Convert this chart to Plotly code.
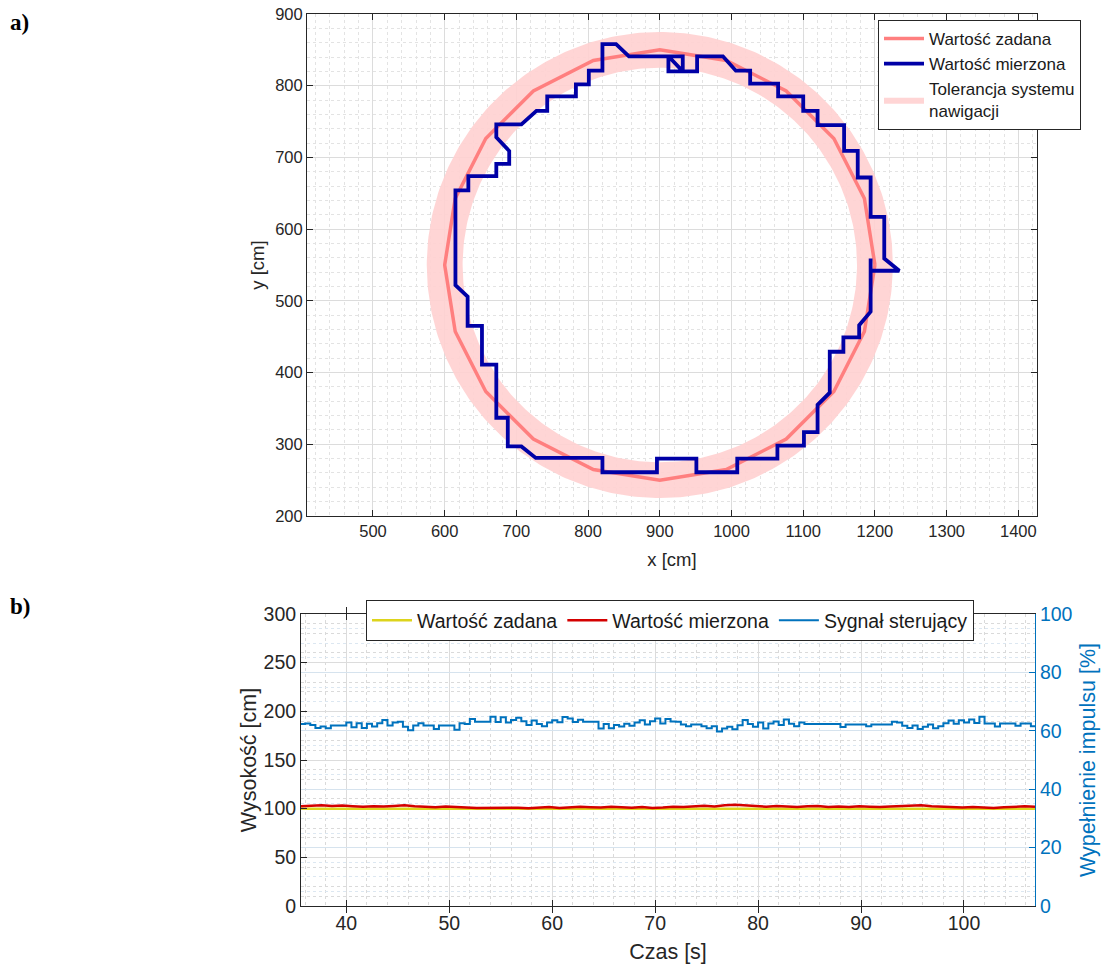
import numpy as np
import plotly.graph_objects as go

# ---------------- Panel a) : trajectory in the XY plane ----------------
set_x = [1200, 1185.3, 1142.7, 1076.3, 992.7, 900, 807.3, 723.7, 657.3, 614.7,
         600, 614.7, 657.3, 723.7, 807.3, 900, 992.7, 1076.3, 1142.7, 1185.3, 1200]
set_y = [550, 642.7, 726.3, 792.7, 835.3, 850, 835.3, 792.7, 726.3, 642.7,
         550, 457.3, 373.7, 307.3, 264.7, 250, 264.7, 307.3, 373.7, 457.3, 550]

meas_x = [1194, 1194, 1178, 1178, 1156, 1156, 1137, 1137, 1120, 1120, 1101, 1101,
          1064, 1064, 1008, 1008, 951, 951, 896, 896, 820, 820, 727, 707, 688, 688,
          672, 672, 652, 652, 632, 632, 615, 615, 633, 633, 672, 672, 690, 690, 672,
          672, 707, 728, 743, 743, 783, 783, 801, 801, 820, 820, 839, 857, 932, 932,
          912, 912, 932, 952, 952, 988, 1006, 1026, 1026, 1065, 1065, 1100, 1100,
          1120, 1120, 1157, 1157, 1176, 1176, 1194, 1194, 1213, 1213, 1234, 1194]
meas_y = [559, 485, 466, 449, 449, 429, 429, 372, 355, 317, 317, 298,
          298, 280, 280, 261, 261, 280, 280, 261, 261, 281, 281, 297, 297, 337,
          337, 411, 411, 465, 465, 506, 522, 654, 654, 674, 674, 691, 691, 709, 728,
          746, 746, 765, 765, 785, 785, 802, 802, 821, 821, 858, 858, 841, 841, 820,
          820, 841, 820, 820, 841, 841, 821, 821, 803, 803, 785, 785, 765,
          765, 745, 745, 709, 709, 672, 672, 617, 617, 559, 542, 542]

circle_center = (900, 550)
circle_radius = 300
nav_tolerance = 25

# ---------------- Panel b) : altitude control ----------------
t_start, t_step = 35.5, 0.5
control_pct = [
    62.3, 62.5, 62.0, 61.0, 61.5, 60.9, 61.8, 61.8, 61.8, 62.8,
    61.2, 62.6, 61.0, 62.4, 61.5, 62.6, 63.7, 61.8, 62.8, 63.1,
    61.4, 60.2, 61.8, 62.6, 61.8, 61.8, 60.6, 61.8, 61.8, 61.8,
    60.4, 62.6, 62.3, 64.0, 63.1, 63.1, 63.1, 64.8, 63.0, 64.6,
    62.8, 63.7, 64.5, 63.3, 62.0, 63.5, 62.3, 61.6, 62.8, 63.6,
    62.9, 64.7, 64.2, 63.0, 63.8, 63.1, 63.1, 63.1, 60.8, 62.3,
    60.9, 62.0, 61.5, 62.4, 61.7, 62.8, 63.6, 62.2, 63.3, 64.2,
    62.5, 64.0, 63.2, 63.1, 62.2, 61.6, 62.2, 62.2, 61.6, 60.9,
    61.6, 59.8, 60.8, 61.4, 60.5, 61.9, 63.7, 62.3, 61.4, 62.8,
    60.8, 62.5, 63.2, 62.0, 63.9, 62.4, 61.6, 62.8, 62.3, 62.3,
    62.3, 62.3, 62.3, 62.3, 62.3, 61.3, 62.2, 62.2, 62.2, 62.2,
    61.6, 62.2, 62.2, 62.2, 62.2, 63.1, 62.8, 61.7, 61.0, 61.8,
    60.6, 61.4, 62.2, 60.9, 61.6, 62.6, 63.5, 62.4, 63.6, 62.8,
    63.9, 62.7, 64.8, 62.5, 62.5, 61.5, 62.5, 62.5, 62.5, 61.7,
    62.5, 62.5, 61.6, 62.3]
t_ctrl = t_start + t_step * np.arange(len(control_pct))

height_meas = [
    102.5, 103.0, 103.5, 102.8, 103.2, 102.5, 102.0, 102.6, 102.2, 102.8,
    103.4, 102.6, 102.0, 101.5, 102.2, 102.0, 101.2, 100.8, 101.0, 100.6,
    101.4, 101.0, 100.5, 101.2, 101.8, 100.6, 101.0, 102.0, 101.5, 101.2,
    102.0, 101.4, 101.0, 101.6, 100.8, 101.2, 102.0, 101.6, 102.4, 103.0,
    102.2, 103.6, 104.0, 103.2, 102.6, 102.0, 102.8, 102.2, 101.6, 102.4,
    102.8, 101.8, 102.2, 101.8, 102.6, 102.0, 101.6, 102.2, 102.6, 103.2,
    103.6, 102.4, 102.0, 101.6, 101.2, 101.8, 101.2, 100.8, 101.4, 101.8,
    102.4, 102.0]
t_meas = np.linspace(35.6, 106.9, len(height_meas))
height_set = [100, 100]
t_set = [35.6, 106.9]

# ---------------- figure ----------------
W, H = 1109, 964
AX = '#262626'
FONT = 'Liberation Sans, Arial, sans-serif'

def fx(px):
    return px / W

def fy(py):
    return 1 - py / H

fig = go.Figure()

# tolerance ring (filled annulus)
th = np.linspace(0, 2 * np.pi, 361)
cx, cy = circle_center
ro, ri = circle_radius + nav_tolerance, circle_radius - nav_tolerance
ring_x = np.concatenate([cx + ro * np.cos(th), cx + ri * np.cos(th[::-1])])
ring_y = np.concatenate([cy + ro * np.sin(th), cy + ri * np.sin(th[::-1])])

fig.add_trace(go.Scatter(x=ring_x, y=ring_y, mode='lines', fill='toself',
                         fillcolor='rgba(255,208,208,0.9)', line=dict(width=0, color='rgba(0,0,0,0)'),
                         name='Tolerancja systemu<br>nawigacji', xaxis='x', yaxis='y',
                         legend='legend', legendrank=3))
fig.add_trace(go.Scatter(x=set_x, y=set_y, mode='lines', name='Wartość zadana',
                         line=dict(color='#FF7F7F', width=3.5), xaxis='x', yaxis='y',
                         legend='legend', legendrank=1))
fig.add_trace(go.Scatter(x=meas_x, y=meas_y, mode='lines', name='Wartość mierzona',
                         line=dict(color='#0000A6', width=3.8), xaxis='x', yaxis='y',
                         legend='legend', legendrank=2))

fig.add_trace(go.Scatter(x=t_set, y=height_set, mode='lines', name='Wartość zadana',
                         line=dict(color='#DDD41C', width=2.5), xaxis='x2', yaxis='y2',
                         legend='legend2', legendrank=1))
fig.add_trace(go.Scatter(x=t_meas, y=height_meas, mode='lines', name='Wartość mierzona',
                         line=dict(color='#D40000', width=2.5), xaxis='x2', yaxis='y2',
                         legend='legend2', legendrank=2))
fig.add_trace(go.Scatter(x=t_ctrl, y=control_pct, mode='lines', name='Sygnał sterujący',
                         line=dict(color='#0072BD', width=2, shape='hv'), xaxis='x2', yaxis='y3',
                         legend='legend2', legendrank=3))

common = dict(showline=True, linecolor=AX, linewidth=1, ticks='inside', ticklen=6,
              tickcolor=AX, showgrid=True, gridcolor='#DCDCDC', gridwidth=1, zeroline=False,
              automargin=False)

fig.update_layout(
    template='plotly_white',
    width=W, height=H, margin=dict(l=0, r=0, t=0, b=0, autoexpand=False),
    paper_bgcolor='white', plot_bgcolor='white',
    font=dict(family=FONT, color=AX),
    xaxis=dict(domain=[fx(307), fx(1037)], range=[408, 1426], anchor='y',
               tickvals=list(range(500, 1401, 100)), mirror='allticks',
               minor=dict(dtick=20, tick0=0, showgrid=True, gridcolor='#E3E3E3', griddash='dot', ticks=''),
               title=dict(text='x [cm]', font=dict(size=18.5), standoff=14),
               tickfont=dict(family=FONT, color=AX, size=16.5), **common),
    yaxis=dict(domain=[fy(516), fy(14)], range=[200, 900], anchor='x',
               tickvals=list(range(200, 901, 100)), mirror='allticks',
               minor=dict(dtick=20, tick0=0, showgrid=True, gridcolor='#E3E3E3', griddash='dot', ticks=''),
               title=dict(text='y [cm]', font=dict(size=18.5), standoff=5),
               tickfont=dict(family=FONT, color=AX, size=16.5), **common),
    xaxis2=dict(domain=[fx(301), fx(1035)], range=[35.6, 106.9], anchor='y2',
                tickvals=list(range(40, 101, 10)), mirror='allticks',
                minor=dict(dtick=2, tick0=0, showgrid=True, gridcolor='#DADADA', griddash='dot', ticks=''),
                title=dict(text='Czas [s]', font=dict(size=21.5), standoff=11),
                tickfont=dict(family=FONT, color=AX, size=19.5), **common),
    yaxis2=dict(domain=[fy(906), fy(614)], range=[0, 300], anchor='x2',
                tickvals=list(range(0, 301, 50)),
                minor=dict(dtick=10, tick0=0, showgrid=True, gridcolor='#DADADA', griddash='dot', ticks=''),
                title=dict(text='Wysokość [cm]', font=dict(size=21.5), standoff=1),
                tickfont=dict(family=FONT, color=AX, size=19.5), **common),
    yaxis3=dict(range=[0, 100], overlaying='y2', side='right', anchor='x2',
                tickvals=list(range(0, 101, 20)), showline=True, linecolor='#0072BD', linewidth=1,
                ticks='inside', ticklen=6, tickcolor='#0072BD', showgrid=True,
                gridcolor='#D6E3EE', zeroline=False, automargin=False,
                minor=dict(dtick=5, tick0=0, showgrid=True, gridcolor='#DCE7F1', griddash='dot', ticks=''),
                tickfont=dict(family=FONT, color='#0072BD', size=19.5),
                title=dict(text='Wypełnienie impulsu [%]', font=dict(size=21.5, color='#0072BD'), standoff=8)),
    legend=dict(x=fx(878), y=fy(20), xanchor='left', yanchor='top', bgcolor='white',
                bordercolor=AX, borderwidth=1, font=dict(family=FONT, size=17, color='#1a1a1a'),
                tracegroupgap=0, itemwidth=40),
    legend2=dict(x=fx(670), y=fy(600), xanchor='center', yanchor='top', orientation='h',
                 bgcolor='white', bordercolor=AX, borderwidth=1,
                 font=dict(family=FONT, size=19.5, color='#1a1a1a'), itemwidth=40),
    annotations=[
        dict(text='<b>a)</b>', x=fx(8), y=fy(8), xref='paper', yref='paper', xanchor='left',
             yanchor='top', showarrow=False, font=dict(family='Liberation Serif, Times New Roman, serif', size=23, color='black')),
        dict(text='<b>b)</b>', x=fx(8), y=fy(592), xref='paper', yref='paper', xanchor='left',
             yanchor='top', showarrow=False, font=dict(family='Liberation Serif, Times New Roman, serif', size=23, color='black')),
    ],
)

fig.write_html('out.html', config={'displayModeBar': False},
               post_script="document.body.style.margin='0px';")
